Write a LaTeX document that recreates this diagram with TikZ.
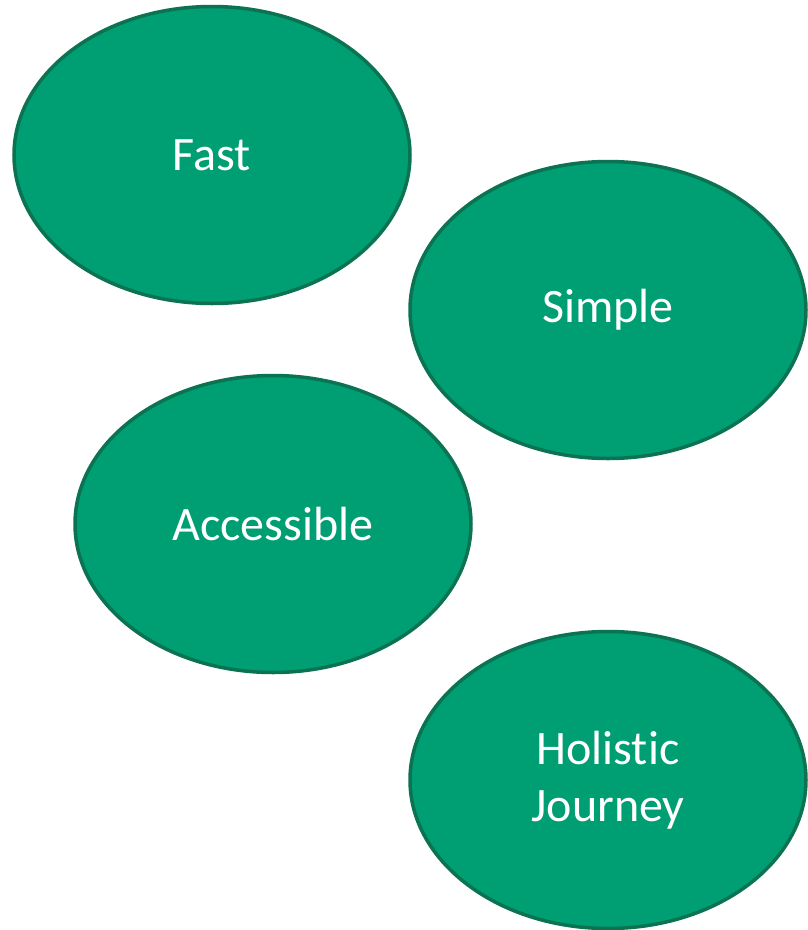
\documentclass[tikz,border=0pt]{standalone}
\usepackage{fontspec}
\setmainfont[Ligatures={NoCommon}]{Carlito}
\usetikzlibrary{shapes.geometric}
\definecolor{fillg}{HTML}{009E73}
\definecolor{lineg}{HTML}{0B7252}
\tikzset{
  blob/.style={ellipse, draw=lineg, fill=fillg, line width=3.5pt, minimum width=396pt, minimum height=297pt, inner sep=0pt, text=white, font=\fontsize{48}{57}\selectfont, align=center}
}
\begin{document}
\begin{tikzpicture}[x=1pt,y=-1pt]
\useasboundingbox (0,0) rectangle (807,930);
\node[blob] (fast) at (212,155) {\raisebox{-2pt}{Fast}};
\node[blob] (simple) at (608,310) {\raisebox{-2pt}{Simple}};
\node[blob] (acc) at (273,524) {\raisebox{-2pt}{Accessible}};
\node[blob] (hol) at (608,780) {Holistic\\Journey};
\end{tikzpicture}
\end{document}
